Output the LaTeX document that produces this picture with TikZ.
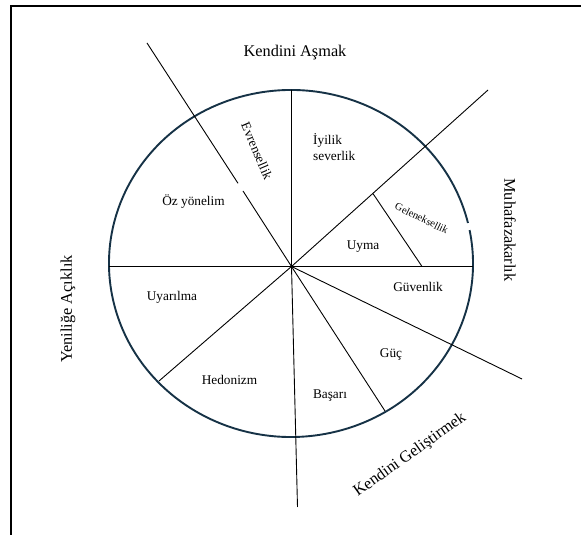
\documentclass[tikz,border=0pt]{standalone}
\usepackage{fontspec}
\setmainfont{Liberation Serif}
\definecolor{ringcol}{RGB}{22,50,70}
\begin{document}
\begin{tikzpicture}[x=1pt,y=1pt,
  seg/.style={font=\fontsize{13.3}{16}\selectfont, inner sep=0pt},
  grp/.style={font=\fontsize{16.3}{19}\selectfont, inner sep=0pt},
  small/.style={font=\fontsize{10.5}{12}\selectfont, inner sep=0pt},
  ray/.style={line width=0.9pt, black},
  ring/.style={line width=1.9pt, ringcol}]
\useasboundingbox (0,0) rectangle (581,535);
% frame (top and left edges)
\coordinate (F1) at (10.5,0);
\coordinate (F2) at (10.5,529);
\coordinate (F3) at (581,529);
\draw[line width=2pt] (F1) -- (F2) -- (F3);
% ring
\coordinate (E) at (291,271.5);
\draw[ring] ([shift={(13.5:182 and 173.5)}]E) arc[start angle=13.5, end angle=371.1, x radius=182pt, y radius=173.5pt];
% centre and ends of rays
\coordinate (C) at (291.5,268.5);
\coordinate (Top) at (291.5,445);
\coordinate (Bot) at (297.5,28);
\coordinate (Lft) at (109,268.5);
\coordinate (Rgt) at (473,268.5);
\coordinate (UR) at (488,445);
\coordinate (UL) at (147,492);
\coordinate (ULa) at (238,351.7);
\coordinate (ULb) at (243,344);
\coordinate (LR1) at (522,156);
\coordinate (LR2) at (385,124);
\coordinate (LL) at (159,154);
\coordinate (G1) at (373,341.4);
\coordinate (G2) at (422,268.5);
\draw[ray] (Top) -- (C) -- (Bot);
\draw[ray] (Lft) -- (Rgt);
\draw[ray] (C) -- (UR);
\draw[ray] (UL) -- (ULa);
\draw[ray] (ULb) -- (C);
\draw[ray] (C) -- (LR1);
\draw[ray] (C) -- (LR2);
\draw[ray] (C) -- (LL);
\draw[ray] (G1) -- (G2);
% group labels
\node[grp] (ka) at (295,482) {Kendini Aşmak};
\node[grp, rotate=90] (ya) at (68,226) {Yeniliğe Açıklık};
\node[grp, rotate=-90] (mu) at (510,305) {Muhafazakarlık};
\node[grp, rotate=35.5] (kg) at (410,80) {Kendini Geliştirmek};
% segment labels
\node[seg, align=left, anchor=west] (iy) at (313,388) {İyilik\\severlik};
\node[seg, rotate=-67] (ev) at (257,384) {Evrensellik};
\node[seg] (oz) at (193.5,333) {Öz yönelim};
\node[small, rotate=-26] (ge) at (421.7,316.7) {Geleneksellik};
\node[seg] (uy) at (363,288) {Uyma};
\node[seg] (gu) at (418,248) {Güvenlik};
\node[seg] (gc) at (391,180) {Güç};
\node[seg] (ba) at (330,139) {Başarı};
\node[seg] (he) at (229.5,155) {Hedonizm};
\node[seg] (ua) at (172,238) {Uyarılma};
\end{tikzpicture}
\end{document}
